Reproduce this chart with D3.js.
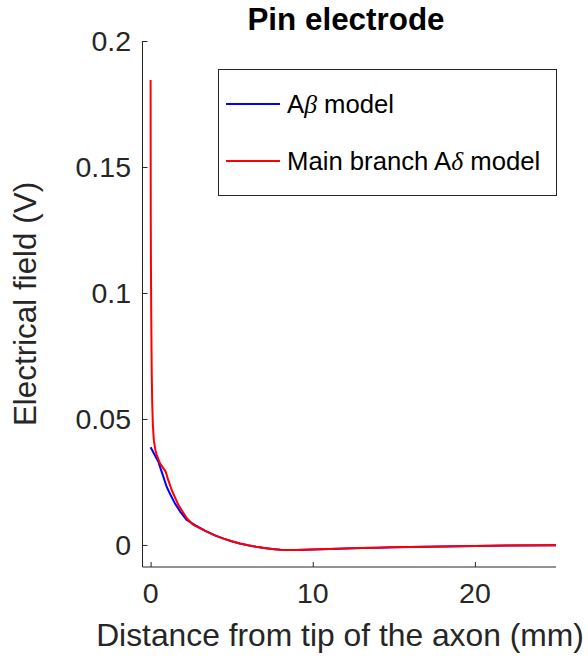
<!DOCTYPE html>
<html>
<head>
<meta charset="utf-8">
<script src="https://cdn.jsdelivr.net/npm/d3@7"></script>
<style>
  body { margin: 0; background: #fff; }
  svg text { font-family: "Liberation Sans", Arial, Helvetica, sans-serif; }
</style>
</head>
<body>
<svg id="chart" width="588" height="660"></svg>
<script>
// distance from tip of the axon (mm) and electrical field (V)
const abetaX = [0, 0.47, 0.7, 0.99, 1.25, 1.5, 1.85, 2.23, 2.74, 3.35, 4.0, 4.5, 5.0, 5.5, 6.0, 6.5, 7.0, 7.5, 8.0, 8.5, 9.0, 10, 11, 12, 13, 14, 15, 16, 18, 20, 22, 25];
const abetaY = [0.0388, 0.0331, 0.0287, 0.0231, 0.0196, 0.0165, 0.0130, 0.0099, 0.0079, 0.0057, 0.0037, 0.0025, 0.0015, 0.0006, -0.0001, -0.0007, -0.0012, -0.0016, -0.0019, -0.0020, -0.0020, -0.0018, -0.0016, -0.0014, -0.0012, -0.0011, -0.0009, -0.0008, -0.0006, -0.0004, -0.0002, -0.0001];

const adeltaX = [0, 0.005, 0.01, 0.02, 0.035, 0.05, 0.07, 0.1, 0.14, 0.2, 0.3, 0.38, 0.58, 0.93, 1.1, 1.3, 1.71, 2.23, 2.63, 3.0, 3.5, 4.0, 4.5, 5.0, 5.5, 6.0, 6.5, 7.0, 7.5, 8.0, 8.5, 9.0, 10, 11, 12, 13, 14, 15, 16, 18, 20, 22, 25];
const adeltaY = [0.1845, 0.150, 0.130, 0.112, 0.095, 0.082, 0.068, 0.056, 0.0475, 0.0415, 0.0375, 0.0357, 0.0324, 0.0291, 0.0255, 0.0218, 0.0159, 0.0106, 0.0080, 0.0068, 0.0052, 0.0037, 0.0025, 0.0015, 0.0006, -0.0001, -0.0007, -0.0012, -0.0016, -0.0019, -0.0020, -0.0020, -0.0018, -0.0016, -0.0014, -0.0012, -0.0011, -0.0009, -0.0008, -0.0006, -0.0004, -0.0002, -0.0001];

const xTicks = [0, 10, 20];
const yTicks = [0, 0.05, 0.1, 0.15, 0.2];
const yTickLabels = ["0", "0.05", "0.1", "0.15", "0.2"];

const seriesNames = ["A\u03b2 model", "Main branch A\u03b4 model"];
const seriesColors = ["#0000ff", "#ff0000"];

const axisColor = "#262626";
const svg = d3.select("#chart");

const x = d3.scaleLinear().domain([-0.5, 25]).range([142.5, 556]);
const y = d3.scaleLinear().domain([-0.00875, 0.2]).range([567, 41]);

// axes (box off, ticks pointing in)
const xAxis = svg.append("g")
  .attr("transform", `translate(0,${y.range()[0]})`)
  .call(d3.axisTop(x).tickValues(xTicks).tickSize(5).tickFormat(""));
xAxis.select(".domain").attr("d", `M${x.range()[0]},0H${x.range()[1]}`);

const yAxis = svg.append("g")
  .attr("transform", `translate(${x.range()[0]},0)`)
  .call(d3.axisRight(y).tickValues(yTicks).tickSize(5).tickFormat(""));
yAxis.select(".domain").attr("d", `M0,${y.range()[0]}V${y.range()[1]}`);

svg.selectAll(".domain, .tick line").attr("stroke", axisColor).attr("stroke-width", 1);

// tick labels
svg.append("g").selectAll("text")
  .data(xTicks).enter().append("text")
  .attr("x", d => x(d))
  .attr("y", 603)
  .attr("text-anchor", "middle")
  .attr("font-size", 28.5)
  .attr("fill", axisColor)
  .text(d => d);

svg.append("g").selectAll("text")
  .data(yTicks).enter().append("text")
  .attr("x", 131)
  .attr("y", d => y(d))
  .attr("dy", "0.35em")
  .attr("text-anchor", "end")
  .attr("font-size", 28.5)
  .attr("fill", axisColor)
  .text((d, i) => yTickLabels[i]);

// axis labels and title
svg.append("text")
  .attr("x", 340).attr("y", 646)
  .attr("text-anchor", "middle")
  .attr("font-size", 31.8)
  .attr("fill", axisColor)
  .text("Distance from tip of the axon (mm)");

svg.append("text")
  .attr("transform", "translate(36,304) rotate(-90)")
  .attr("text-anchor", "middle")
  .attr("font-size", 31.4)
  .attr("fill", axisColor)
  .text("Electrical field (V)");

svg.append("text")
  .attr("x", 346).attr("y", 30)
  .attr("text-anchor", "middle")
  .attr("font-size", 31.4)
  .attr("font-weight", "bold")
  .attr("fill", "#000")
  .text("Pin electrode");

// curves, red on top
const line = d3.line().x(d => x(d[0])).y(d => y(d[1]));
const series = [d3.zip(abetaX, abetaY), d3.zip(adeltaX, adeltaY)];

svg.append("g").selectAll("path")
  .data(series).enter().append("path")
  .attr("d", line)
  .attr("fill", "none")
  .attr("stroke", (d, i) => seriesColors[i])
  .attr("stroke-width", 2)
  .attr("stroke-linejoin", "round");

// legend
const legend = svg.append("g");
legend.append("rect")
  .attr("x", 218.5).attr("y", 69.5)
  .attr("width", 338).attr("height", 126)
  .attr("fill", "#fff")
  .attr("stroke", axisColor)
  .attr("stroke-width", 1);

const legendY = [104, 161];
seriesNames.forEach((name, i) => {
  legend.append("line")
    .attr("x1", 226).attr("x2", 280)
    .attr("y1", legendY[i]).attr("y2", legendY[i])
    .attr("stroke", seriesColors[i])
    .attr("stroke-width", 2);
  const t = legend.append("text")
    .attr("x", 287).attr("y", legendY[i])
    .attr("dy", "0.35em")
    .attr("font-size", 25.7)
    .attr("fill", "#000");
  // greek letter in italic serif like the TeX interpreter
  const parts = name.split(/([\u03b2\u03b4])/);
  parts.forEach(p => {
    const s = t.append("tspan").text(p);
    if (/[\u03b2\u03b4]/.test(p)) {
      s.style("font-family", "'Liberation Serif', 'DejaVu Serif', serif").attr("font-style", "italic");
    }
  });
});
</script>
</body>
</html>
